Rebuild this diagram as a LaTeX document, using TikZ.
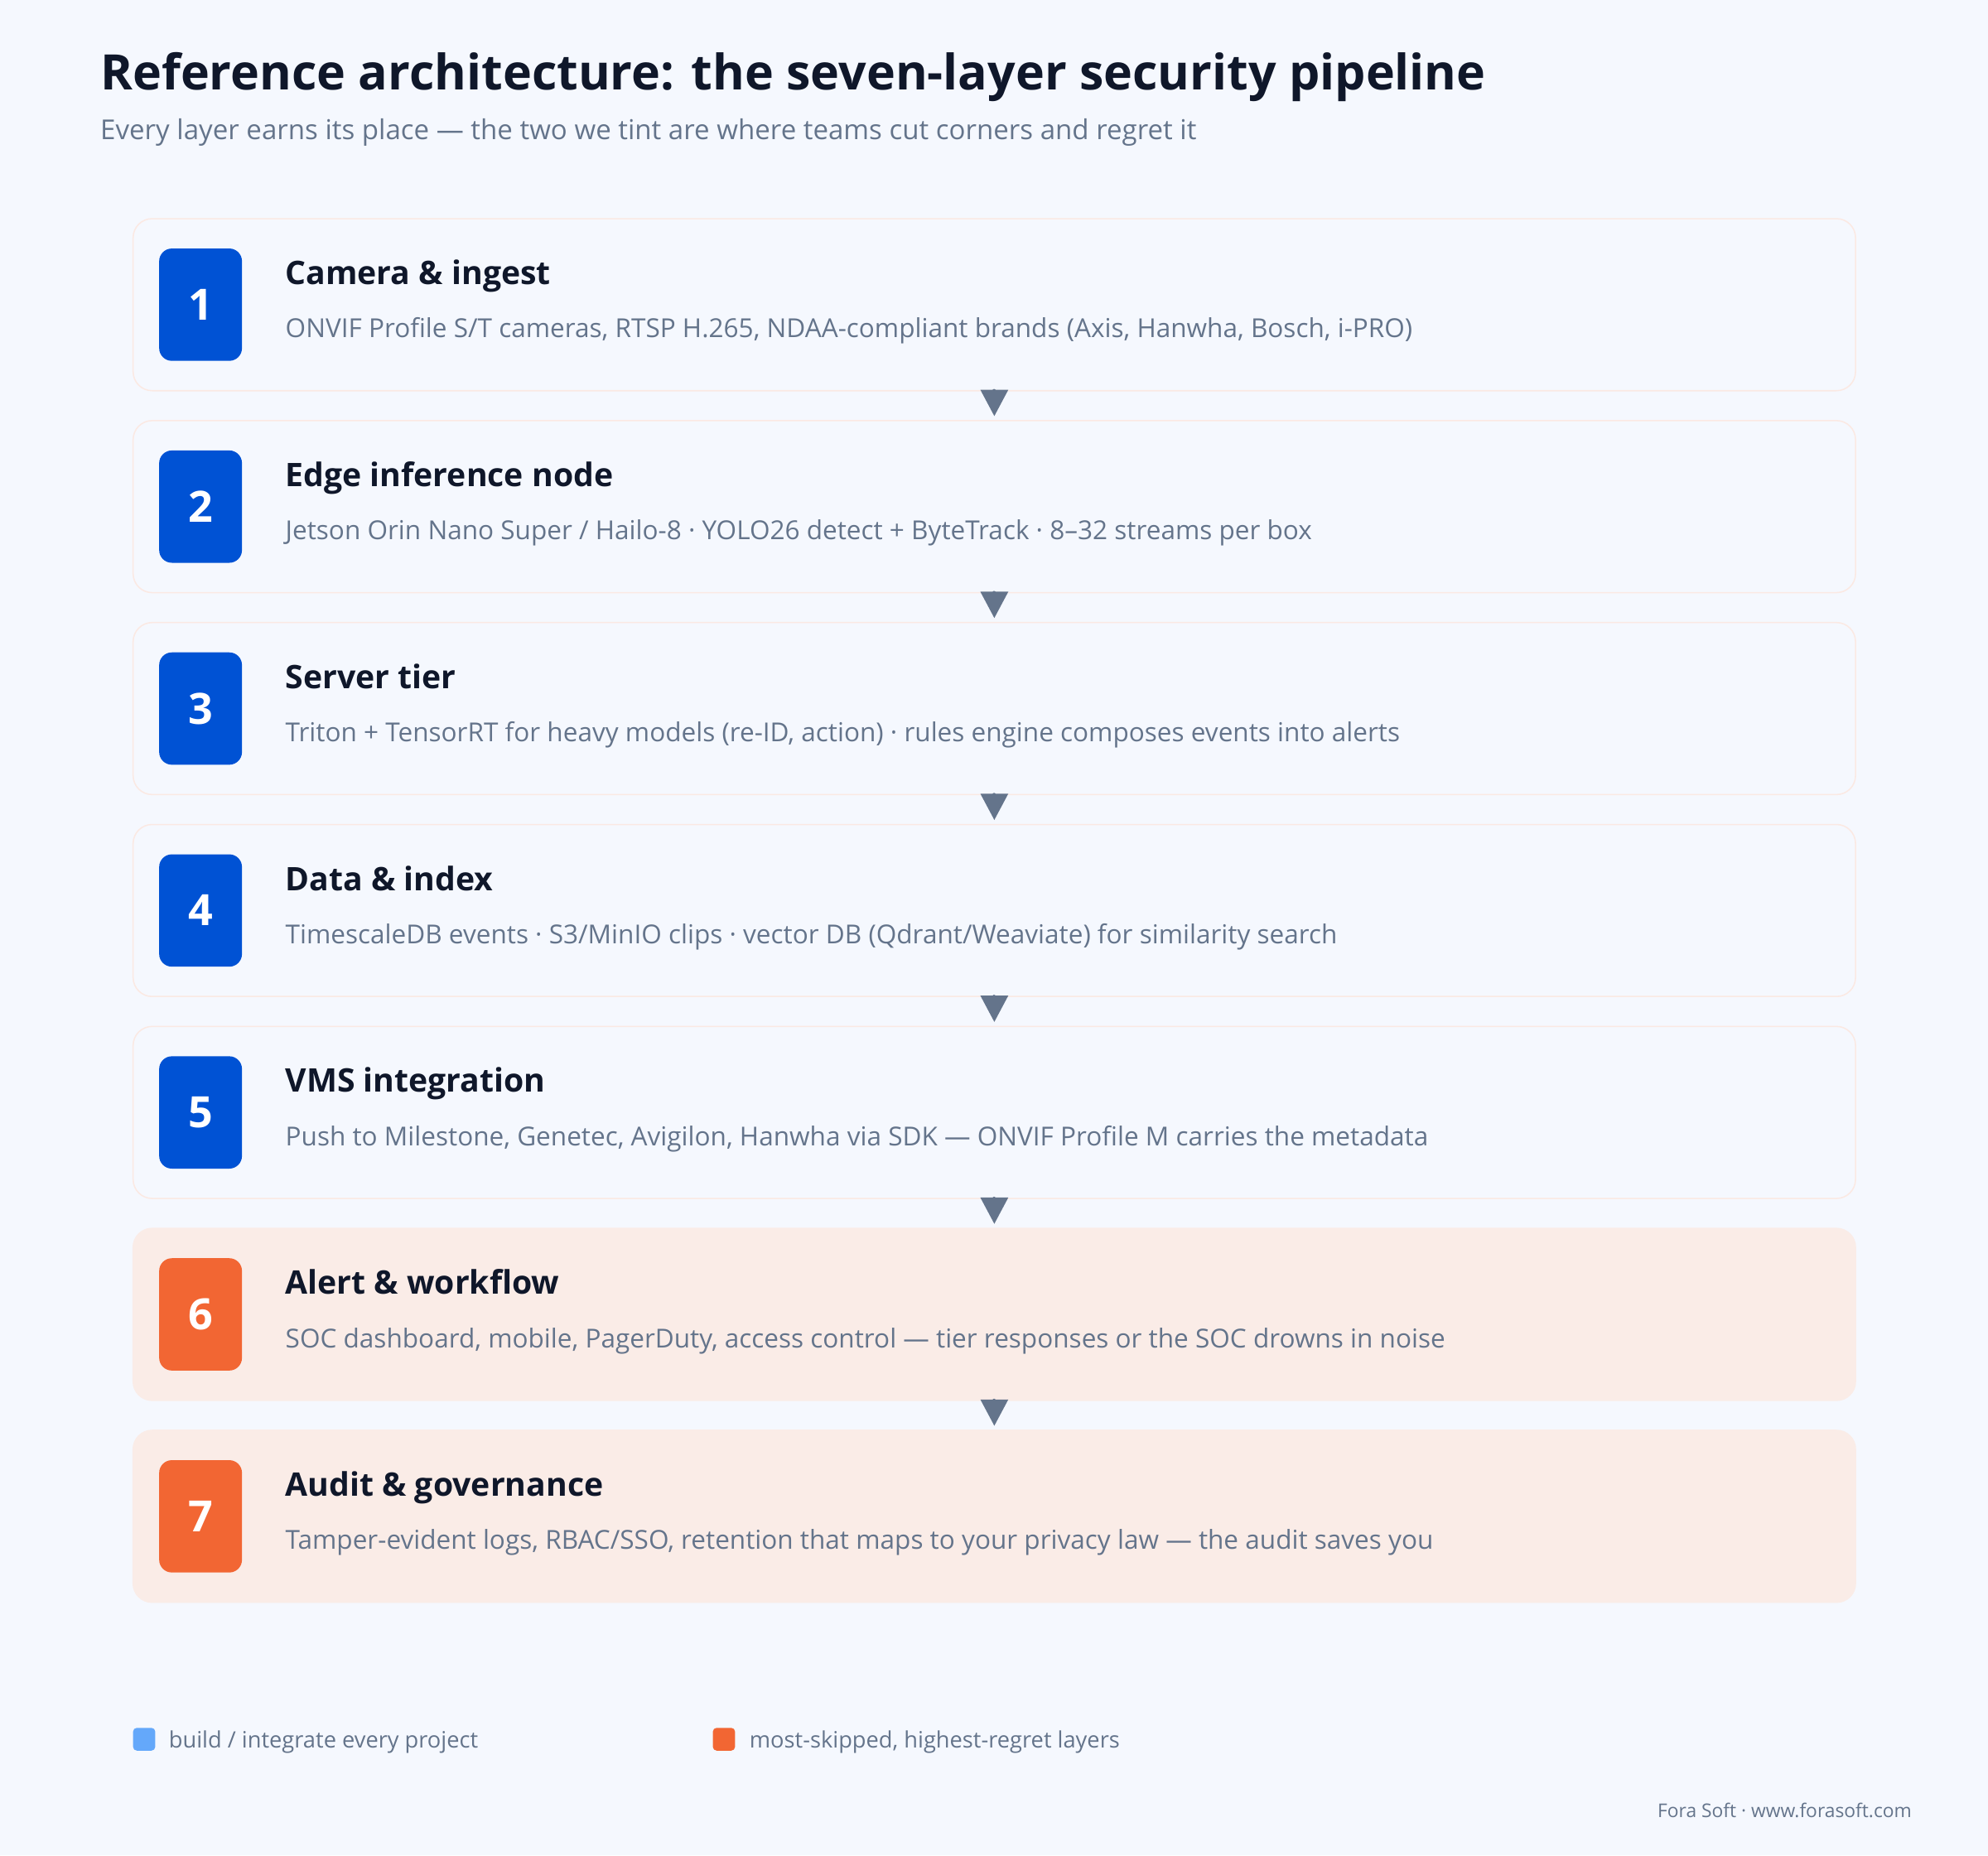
\documentclass[tikz,border=0pt]{standalone}
\usepackage{fontspec}
\setmainfont{Open Sans}
\usetikzlibrary{arrows.meta}

\definecolor{pagebg}{HTML}{F5F8FE}
\definecolor{layerline}{HTML}{FBE9E3}
\definecolor{hotfill}{HTML}{FAECE7}
\definecolor{badgeblue}{HTML}{0052D4}
\definecolor{badgeorange}{HTML}{F26633}
\definecolor{legendblue}{HTML}{64A8FA}
\definecolor{inkdark}{HTML}{0F172A}
\definecolor{inkslate}{HTML}{64748B}

\tikzset{
  layer/.style={draw=layerline, line width=1pt, fill=pagebg, rounded corners=15pt,
    minimum width=1358.5pt, minimum height=135.7pt, inner sep=0pt},
  hotlayer/.style={layer, draw=hotfill, fill=hotfill},
  badge/.style={fill=badgeblue, rounded corners=10pt, minimum width=65.3pt,
    minimum height=88.6pt, inner sep=0pt, text=white,
    font=\fontsize{34}{34}\selectfont\bfseries},
  hotbadge/.style={badge, fill=badgeorange},
  heading/.style={anchor=base west, inner sep=0pt, text=inkdark,
    font=\fontsize{25.6}{25.6}\selectfont\bfseries},
  detail/.style={anchor=base west, inner sep=0pt, text=inkslate,
    font=\fontsize{20.6}{20.6}\selectfont},
  flow/.style={draw=inkslate, line width=2.7pt,
    -{Triangle[length=20.8pt, width=21.3pt]}, shorten >=3pt},
  swatch/.style={rounded corners=3pt, minimum width=17.5pt, minimum height=18pt, inner sep=0pt},
  legendtext/.style={anchor=base west, inner sep=0pt, text=inkslate,
    font=\fontsize{17.8}{17.8}\selectfont}
}

\begin{document}
\begin{tikzpicture}[line cap=round,line join=round,x=1pt,y=-1pt]
\useasboundingbox (0,0) rectangle (1568,1463.47);
\fill[pagebg] (0,0) rectangle (1568,1463.47);

% title
\node[anchor=base west, inner sep=0pt, text=inkdark, font=\fontsize{38.6}{38.6}\selectfont\bfseries]
  (title) at (79,70.8) {Reference architecture: the seven-layer security pipeline};
\node[anchor=base west, inner sep=0pt, text=inkslate, font=\fontsize{21.6}{21.6}\selectfont]
  (subtitle) at (79,110) {Every layer earns its place — the two we tint are where teams cut corners and regret it};

% layers
\node[layer] (layer1) at (784.25,240.35) {};
\node[layer] (layer2) at (784.25,399.65) {};
\node[layer] (layer3) at (784.25,558.95) {};
\node[layer] (layer4) at (784.25,718.25) {};
\node[layer] (layer5) at (784.25,877.55) {};
\node[hotlayer] (layer6) at (784.25,1036.85) {};
\node[hotlayer] (layer7) at (784.25,1196.15) {};

\node[badge] (num1) at (158.2,240.35) {1};
\node[badge] (num2) at (158.2,399.65) {2};
\node[badge] (num3) at (158.2,558.95) {3};
\node[badge] (num4) at (158.2,718.25) {4};
\node[badge] (num5) at (158.2,877.55) {5};
\node[hotbadge] (num6) at (158.2,1036.85) {6};
\node[hotbadge] (num7) at (158.2,1196.15) {7};

\node[heading] (head1) at (225,224.5) {Camera \& ingest};
\node[detail] (text1) at (225,266.5) {ONVIF Profile S/T cameras, RTSP H.265, NDAA-compliant brands (Axis, Hanwha, Bosch, i-PRO)};

\node[heading] (head2) at (225,383.8) {Edge inference node};
\node[detail] (text2) at (225,425.8) {Jetson Orin Nano Super / Hailo-8 · YOLO26 detect + ByteTrack · 8–32 streams per box};

\node[heading] (head3) at (225,543.1) {Server tier};
\node[detail] (text3) at (225,585.1) {Triton + TensorRT for heavy models (re-ID, action) · rules engine composes events into alerts};

\node[heading] (head4) at (225,702.4) {Data \& index};
\node[detail] (text4) at (225,744.4) {TimescaleDB events · S3/MinIO clips · vector DB (Qdrant/Weaviate) for similarity search};

\node[heading] (head5) at (225,861.7) {VMS integration};
\node[detail] (text5) at (225,903.7) {Push to Milestone, Genetec, Avigilon, Hanwha via SDK — ONVIF Profile M carries the metadata};

\node[heading] (head6) at (225,1021) {Alert \& workflow};
\node[detail] (text6) at (225,1063) {SOC dashboard, mobile, PagerDuty, access control — tier responses or the SOC drowns in noise};

\node[heading] (head7) at (225,1180.3) {Audit \& governance};
\node[detail] (text7) at (225,1222.3) {Tamper-evident logs, RBAC/SSO, retention that maps to your privacy law — the audit saves you};

% arrows between layers
\draw[flow] (layer1) -- (layer2);
\draw[flow] (layer2) -- (layer3);
\draw[flow] (layer3) -- (layer4);
\draw[flow] (layer4) -- (layer5);
\draw[flow] (layer5) -- (layer6);
\draw[flow] (layer6) -- (layer7);

% legend
\node[swatch, fill=legendblue] (keybuild) at (113.7,1372) {};
\node[legendtext] (keybuildtext) at (133,1379) {build / integrate every project};
\node[swatch, fill=badgeorange] (keyskip) at (571,1372) {};
\node[legendtext] (keyskiptext) at (591,1379) {most-skipped, highest-regret layers};

\node[anchor=base east, inner sep=0pt, text=inkslate, font=\fontsize{14.9}{14.9}\selectfont]
  (footer) at (1508,1434) {Fora Soft · www.forasoft.com};

\end{tikzpicture}
\end{document}
